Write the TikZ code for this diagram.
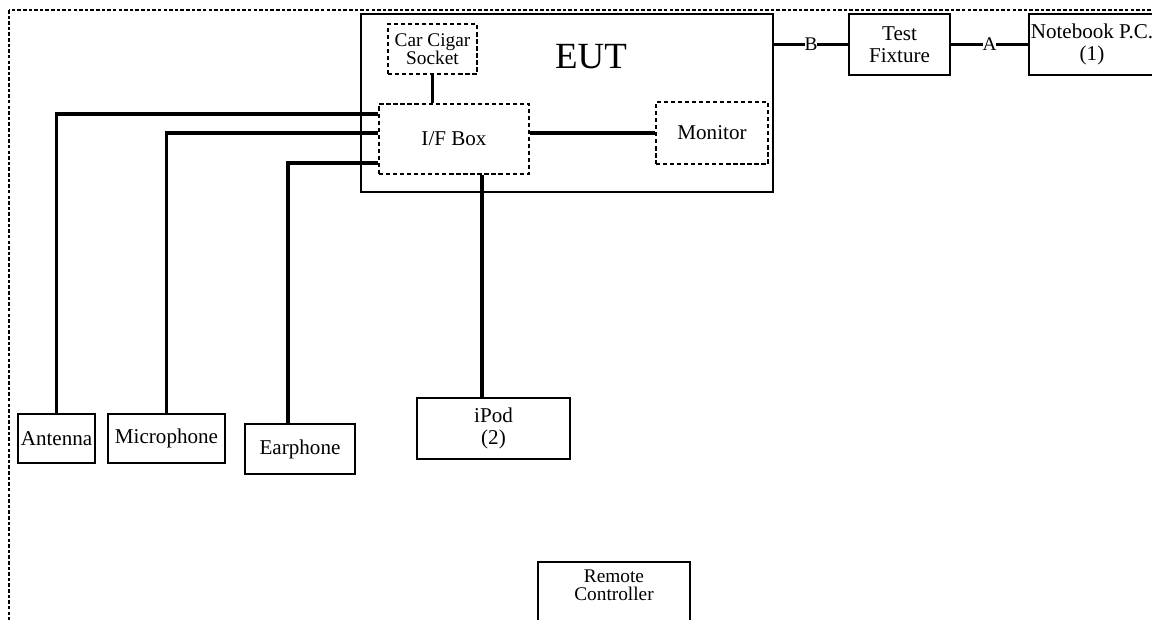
\documentclass[tikz,border=0pt]{standalone}
\usepackage{fontspec}
\setmainfont{Liberation Serif}
\usetikzlibrary{calc}

\begin{document}
\begin{tikzpicture}[
    x=0.02cm, y=-0.02cm,
    every node/.style={font=\fontsize{12}{12.5}\selectfont},
    equip/.style={draw, line width=1pt, inner sep=0pt, align=center},
    part/.style={draw, line width=1pt, dash pattern=on 2.4pt off 1.6pt, inner sep=0pt, align=center},
    wire/.style={line width=2.1pt},
    tag/.style={fill=white, inner sep=0pt, font=\fontsize{11}{12}\selectfont}
]
\useasboundingbox (0,0) rectangle (1152,619);
\clip (0,0) rectangle (1152,619);
% ----- outer border (runs past the page) -----
\draw[line width=0.7pt, dash pattern=on 2pt off 1.2pt] (9,10) rectangle (1170,640);
% ----- EUT and its parts -----
\node[equip, minimum width=412*0.02cm, minimum height=178*0.02cm] (eut) at (567,103) {};
\node[font=\fontsize{21}{24}\selectfont] (eutlabel) at (591,57) {EUT};
\node[part, minimum width=89*0.02cm, minimum height=50*0.02cm, font=\fontsize{11}{10.5}\selectfont] (cigar) at (432.5,49) {Car Cigar\\Socket};
\node[part, minimum width=150*0.02cm, minimum height=70*0.02cm] (ifbox) at (454,139) {I/F Box};
\node[part, minimum width=112*0.02cm, minimum height=62*0.02cm] (monitor) at (712,133) {Monitor};
% ----- right chain -----
\node[equip, minimum width=101*0.02cm, minimum height=61*0.02cm] (fixture) at (899.5,44.5) {Test\\Fixture};
\node[equip, minimum width=126*0.02cm, minimum height=61*0.02cm] (notebook) at (1092,44.5) {Notebook P.C.\\(1)};
% ----- peripherals -----
\node[equip, minimum width=77*0.02cm, minimum height=49*0.02cm] (antenna) at (56.5,438.5) {Antenna};
\node[equip, minimum width=117*0.02cm, minimum height=49*0.02cm] (micro) at (166.5,438.5) {Microphone};
\node[equip, minimum width=110*0.02cm, minimum height=50*0.02cm] (earphone) at (300,449) {Earphone};
\node[equip, minimum width=153*0.02cm, minimum height=61*0.02cm] (ipod) at (493.5,428.5) {iPod\\(2)};
\node[equip, anchor=north, minimum width=152*0.02cm, inner ysep=4.5pt, text depth=40pt, font=\fontsize{11}{10.5}\selectfont] (remote) at (614,561) {Remote\\Controller};
% ports on the I/F box
\coordinate (pant) at ($(ifbox.west)+(0,-25)$);
\coordinate (pmic) at ($(ifbox.west)+(0,-6)$);
\coordinate (pear) at ($(ifbox.west)+(0,24)$);
\coordinate (pipod) at ($(ifbox.south)+(28,0)$);
\coordinate (pear2) at ($(earphone.north)+(-12,0)$);
% inside EUT
\draw[wire] (cigar.south) -- (cigar.south |- ifbox.north);
\draw[wire] (ifbox.east |- monitor.west) -- (monitor.west);
% to the peripherals
\draw[wire] (pant) -| (antenna.north);
\draw[wire] (pmic) -| (micro.north);
\draw[wire] (pear) -| (pear2);
\draw[wire] (pipod) -- (pipod |- ipod.north);
% right chain with cable names
\draw[wire] (eut.east |- fixture.west) -- node[tag]{B} (fixture.west);
\draw[wire] (fixture.east) -- node[tag]{A} (notebook.west);
\end{tikzpicture}
\end{document}
